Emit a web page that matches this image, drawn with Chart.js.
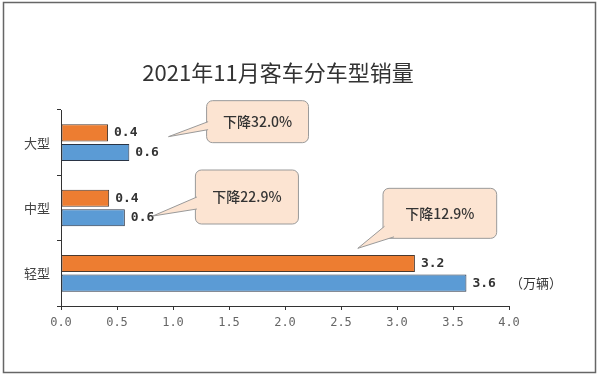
<!DOCTYPE html>
<html>
<head>
<meta charset="utf-8">
<script src="https://cdn.jsdelivr.net/npm/chart.js@4"></script>
<style>
  body { margin: 0; background: #fff; }
  canvas { display: block; }
</style>
</head>
<body>
<canvas id="grafico" width="600" height="378"></canvas>
<script>
// 数据
const categorias = ['大型', '中型', '轻型'];
const vendas2021 = [0.42, 0.43, 3.16];
const vendas2020 = [0.61, 0.57, 3.62];
const quedas = ['下降32.0%', '下降22.9%', '下降12.9%'];
const xTicks = [0, 0.5, 1, 1.5, 2, 2.5, 3, 3.5, 4];
const titulo = '2021年11月客车分车型销量';
const unidade = '（万辆）';

// posição dos balões (valor no eixo x, deslocamento em px a partir do centro da categoria)
const baloes = [
  { x0: 1.30, x1: 2.21, dy0: -42, dy1: 0, tip: [0.96, -6], base: [[1.30, -21], [1.30, -13]] },
  { x0: 1.20, x1: 2.12, dy0: -38, dy1: 16, tip: [0.82, 8], base: [[1.20, -11], [1.20, 1]] },
  { x0: 2.875, x1: 3.89, dy0: -85, dy1: -35, tip: [2.65, -25], base: [[2.875, -47], [2.96, -35]] }
];

const fundo = {
  id: 'fundo',
  beforeDraw(chart) {
    const ctx = chart.ctx;
    ctx.save();
    ctx.fillStyle = '#fff';
    ctx.fillRect(0, 0, chart.width, chart.height);
    ctx.strokeStyle = '#666';
    ctx.lineWidth = 1.5;
    ctx.strokeRect(3.5, 2.5, 592, 370);
    // título
    ctx.fillStyle = '#333';
    ctx.font = '22px "Noto Sans CJK SC"';
    ctx.textAlign = 'center';
    ctx.textBaseline = 'middle';
    ctx.fillText(titulo, 278, 73);
    ctx.restore();
  }
};

const rotulos = {
  id: 'rotulos',
  afterDatasetsDraw(chart) {
    const ctx = chart.ctx;
    ctx.save();
    ctx.font = 'bold 13px "DejaVu Sans Mono"';
    ctx.fillStyle = '#333';
    ctx.textBaseline = 'middle';
    ctx.textAlign = 'left';
    let ultimo = null;
    chart.data.datasets.forEach((ds, i) => {
      chart.getDatasetMeta(i).data.forEach((bar, j) => {
        const txt = ds.data[j].toFixed(1);
        ctx.fillText(txt, bar.x + 6, bar.y);
        if (i === 1 && j === ds.data.length - 1) {
          ultimo = { x: bar.x + 6 + ctx.measureText(txt).width, y: bar.y };
        }
      });
    });
    if (ultimo) {
      ctx.font = '13px "Noto Sans CJK SC"';
      ctx.fillText(unidade, ultimo.x + 14, ultimo.y);
    }

    // balões
    const xs = chart.scales.x, ys = chart.scales.y;
    baloes.forEach((b, i) => {
      const cy = ys.getPixelForValue(i);
      const l = xs.getPixelForValue(b.x0), r = xs.getPixelForValue(b.x1);
      const t = cy + b.dy0, btm = cy + b.dy1;
      ctx.beginPath();
      ctx.roundRect(l, t, r - l, btm - t, 6);
      ctx.fillStyle = '#FCE4D2';
      ctx.fill();
      ctx.strokeStyle = '#9a9a9a';
      ctx.lineWidth = 1;
      ctx.stroke();
      const tx = xs.getPixelForValue(b.tip[0]), ty = cy + b.tip[1];
      const a = b.base[0], c = b.base[1];
      const ax = xs.getPixelForValue(a[0]) + 1.5, ay = cy + a[1];
      let cx2 = xs.getPixelForValue(c[0]) + 1.5, cy2 = cy + c[1];
      if (c[1] === b.dy1) cy2 -= 1.5;
      ctx.beginPath();
      ctx.moveTo(ax, ay);
      ctx.lineTo(tx, ty);
      ctx.lineTo(cx2, cy2);
      ctx.closePath();
      ctx.fill();
      ctx.beginPath();
      ctx.moveTo(ax, ay);
      ctx.lineTo(tx, ty);
      ctx.lineTo(cx2, cy2);
      ctx.stroke();
      ctx.fillStyle = '#333';
      ctx.font = '500 14px "Noto Sans CJK SC"';
      ctx.textAlign = 'center';
      ctx.fillText(quedas[i], (l + r) / 2, (t + btm) / 2);
      ctx.textAlign = 'left';
    });
    ctx.restore();
  }
};

new Chart(document.getElementById('grafico'), {
  type: 'bar',
  data: {
    labels: categorias,
    datasets: [{
      label: '2021年11月',
      data: vendas2021,
      backgroundColor: '#ED7D31',
      borderColor: '#4a3a30',
      borderWidth: 1,
      borderSkipped: false,
      categoryPercentage: 0.6,
      barPercentage: 0.87
    }, {
      label: '2020年11月',
      data: vendas2020,
      backgroundColor: '#5B9BD5',
      borderColor: '#2a3445',
      borderWidth: 1,
      borderSkipped: false,
      categoryPercentage: 0.6,
      barPercentage: 0.87
    }]
  },
  options: {
    indexAxis: 'y',
    responsive: false,
    animation: false,
    layout: { padding: { left: 0, right: 91, top: 110, bottom: 0 } },
    plugins: {
      legend: { display: false },
      tooltip: { enabled: false },
      title: { display: false }
    },
    scales: {
      x: {
        min: 0,
        max: 4,
        afterBuildTicks: s => { s.ticks = xTicks.map(v => ({ value: v })); },
        afterFit: s => { s.height = 72; },
        grid: { drawOnChartArea: false, tickLength: 4, color: '#333' },
        border: { color: '#333', width: 1 },
        ticks: {
          padding: 6,
          color: '#666',
          font: { family: '"DejaVu Sans Mono"', size: 12 },
          callback: v => Number(v).toFixed(1),
          maxRotation: 0
        }
      },
      y: {
        afterFit: s => { s.width = 61; },
        grid: { drawOnChartArea: false, tickLength: 4, color: '#333' },
        border: { color: '#333', width: 1 },
        ticks: {
          padding: 7,
          color: '#444',
          font: { family: '"Noto Sans CJK SC"', size: 13 }
        }
      }
    }
  },
  plugins: [fundo, rotulos]
});
</script>
</body>
</html>
